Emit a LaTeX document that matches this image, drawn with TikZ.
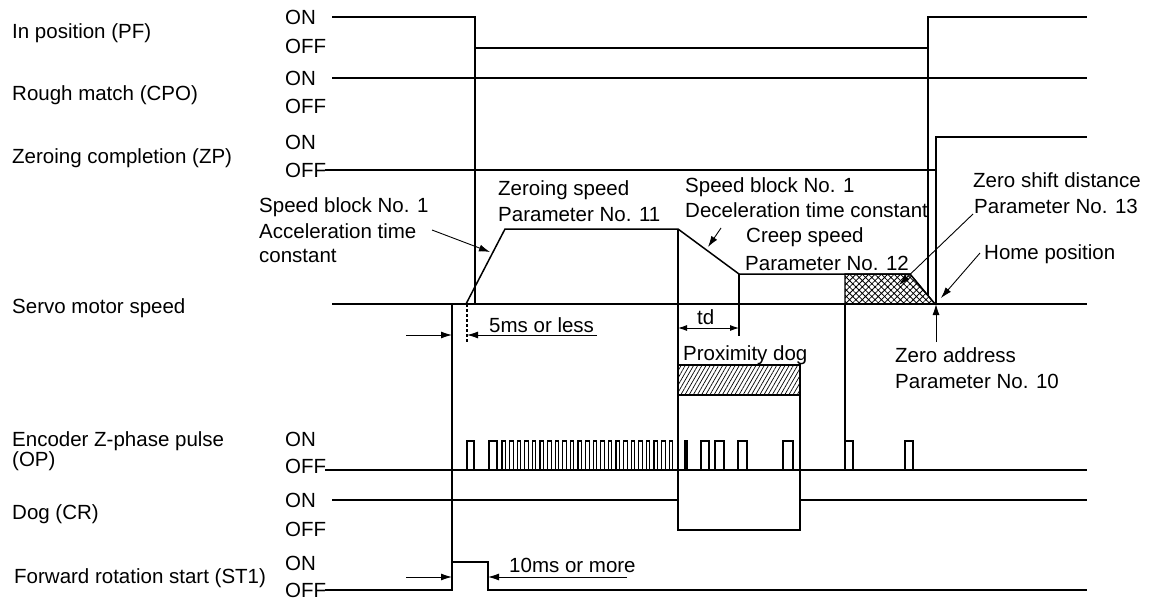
\documentclass[tikz,border=0pt]{standalone}
\usepackage{fontspec}
\setmainfont{Liberation Sans}
\usetikzlibrary{arrows.meta,positioning,patterns.meta}

\tikzset{
  lbl/.style={anchor=base west, inner sep=0pt, font=\fontsize{20.5}{24}\selectfont},
  sig/.style={line width=1.5pt},
  pulse/.style={line width=1.1pt},
  guide/.style={line width=1.1pt},
  pointer/.style={line width=0.9pt, -{Latex[length=11pt,width=7pt]}},
  dimarrow/.style={line width=0.9pt, -{Latex[length=11pt,width=7pt]}},
  shiftarea/.style={line width=1.1pt, pattern={Hatch[angle=45, distance=4.5pt, line width=0.8pt]}},
  dogarea/.style={line width=1.1pt, pattern={Lines[angle=60, distance=3.6pt, line width=0.7pt]}},
}

\begin{document}
\begin{tikzpicture}[x=1pt, y=-1pt, >=Stealth]
  \useasboundingbox (0,0) rectangle (1159,602);

  % signal names
  \node[lbl] (pf)    at (12,39)  {In position (PF)};
  \node[lbl] (cpo)   at (12,100) {Rough match (CPO)};
  \node[lbl] (zp)    at (12,163) {Zeroing completion (ZP)};
  \node[lbl] (speed) at (12,313) {Servo motor speed};
  \node[lbl] (enc)   at (12,446) {Encoder Z-phase pulse};
  \node[lbl] (encop) at (12,466) {(OP)};
  \node[lbl] (dog)   at (12,519) {Dog (CR)};
  \node[lbl] (st1)   at (14,583) {Forward rotation start (ST1)};

  % ON / OFF levels
  \node[lbl] (pfon)   at (285,25)  {ON};
  \node[lbl] (pfoff)  at (285,53)  {OFF};
  \node[lbl] (cpoon)  at (285,85)  {ON};
  \node[lbl] (cpooff) at (285,113) {OFF};
  \node[lbl] (zpon)   at (285,149) {ON};
  \node[lbl] (zpoff)  at (285,177) {OFF};
  \node[lbl] (encon)  at (285,446) {ON};
  \node[lbl] (encoff) at (285,473) {OFF};
  \node[lbl] (dogon)  at (285,507) {ON};
  \node[lbl] (dogoff) at (285,536) {OFF};
  \node[lbl] (st1on)  at (285,570) {ON};
  \node[lbl] (st1off) at (285,597) {OFF};

  % In position
  \draw[sig] (332,17) -- (475,17) -- (475,48) -- (928,48) -- (928,17) -- (1087,17);
  % Rough match
  \draw[sig] (332,78) -- (1087,78);
  % Zeroing completion
  \draw[sig] (325,170) -- (936,170) -- (936,137) -- (1087,137);

  % Servo motor speed
  \draw[sig] (332,304) -- (1087,304);
  \draw[sig] (466,304) -- (505,229) -- (678,229) -- (739,274) -- (910,274) -- (935,304);
  \draw[shiftarea] (845,274) -- (910,274) -- (935,304) -- (845,304) -- cycle;

  % Encoder Z-phase pulse
  \draw[sig] (325,470) -- (1087,470);
  \foreach \px/\pw in {467/7, 489/8, 701/8, 715/9, 738/9, 783/10, 845/8, 905/8}
    \draw[pulse] (\px,470) -- (\px,441) -- ({\px+\pw},441) -- ({\px+\pw},470);
  \foreach \k in {0,...,22}
    \draw[pulse] ({502+7.6*\k},470) -- ++(0,-29) -- ++(3.5,0) -- ++(0,29);
  \draw[pulse] (685,470) -- (685,441) -- (687,441) -- (687,470);

  % Dog
  \draw[sig] (332,500) -- (678,500) -- (678,530) -- (800,530) -- (800,500) -- (1087,500);
  \node[lbl] (proxlbl) at (683,360) {Proximity dog};
  \draw[dogarea] (678,365) rectangle (800,395);

  % Forward rotation start
  \draw[sig] (325,590) -- (452,590) -- (452,562) -- (488,562) -- (488,590) -- (1087,590);

  % timing guides
  \draw[guide] (475,48) -- (475,304);
  \draw[guide] (452,304) -- (452,562);
  \draw[guide, densely dashed] (467,304) -- (467,343);
  \draw[guide] (678,229) -- (678,500);
  \draw[guide] (739,274) -- (739,336);
  \draw[guide] (800,395) -- (800,500);
  \draw[guide] (845,304) -- (845,441);
  \draw[guide] (928,48) -- (928,295);
  \draw[guide] (936,170) -- (936,304);

  % 5ms or less
  \node[lbl] (fivems) at (489,332) {5ms or less};
  \draw[dimarrow] (406,335) -- (452,335);
  \draw[dimarrow] (597,335) -- (467,335);

  % td
  \node[lbl] (td) at (697,324) {td};
  \draw[line width=0.9pt, {Latex[length=9pt,width=6pt]}-{Latex[length=9pt,width=6pt]}] (678,328) -- (739,328);

  % 10ms or more
  \node[lbl] (tenms) at (509,572) {10ms or more};
  \draw[dimarrow] (406,577) -- (452,577);
  \draw[dimarrow] (627,577) -- (488,577);

  % acceleration
  \node[lbl] (acc1) at (259,212) {Speed block No. 1};
  \node[lbl] (acc2) at (259,238) {Acceleration time};
  \node[lbl] (acc3) at (259,262) {constant};
  \draw[pointer] (432,230) -- (490,252);

  % zeroing speed
  \node[lbl] (zs1) at (498,195) {Zeroing speed};
  \node[lbl] (zs2) at (498,221) {Parameter No. 11};

  % deceleration
  \node[lbl] (dec1) at (685,192) {Speed block No. 1};
  \node[lbl] (dec2) at (685,217) {Deceleration time constant};
  \draw[pointer] (721,228) -- (708,247);

  % creep speed
  \node[lbl] (cr1) at (746,242) {Creep speed};
  \node[lbl] (cr2) at (745,270) {Parameter No. 12};

  % zero shift distance
  \node[lbl] (zsd1) at (973,187) {Zero shift distance};
  \node[lbl] (zsd2) at (974,213) {Parameter No. 13};
  \draw[pointer] (973,214) -- (899,285);

  % home position
  \node[lbl] (home) at (984,259) {Home position};
  \draw[pointer] (980,253) -- (941,298);

  % zero address
  \node[lbl] (za1) at (895,362) {Zero address};
  \node[lbl] (za2) at (895,388) {Parameter No. 10};
  \draw[pointer] (936,342) -- (936,304);
\end{tikzpicture}
\end{document}
